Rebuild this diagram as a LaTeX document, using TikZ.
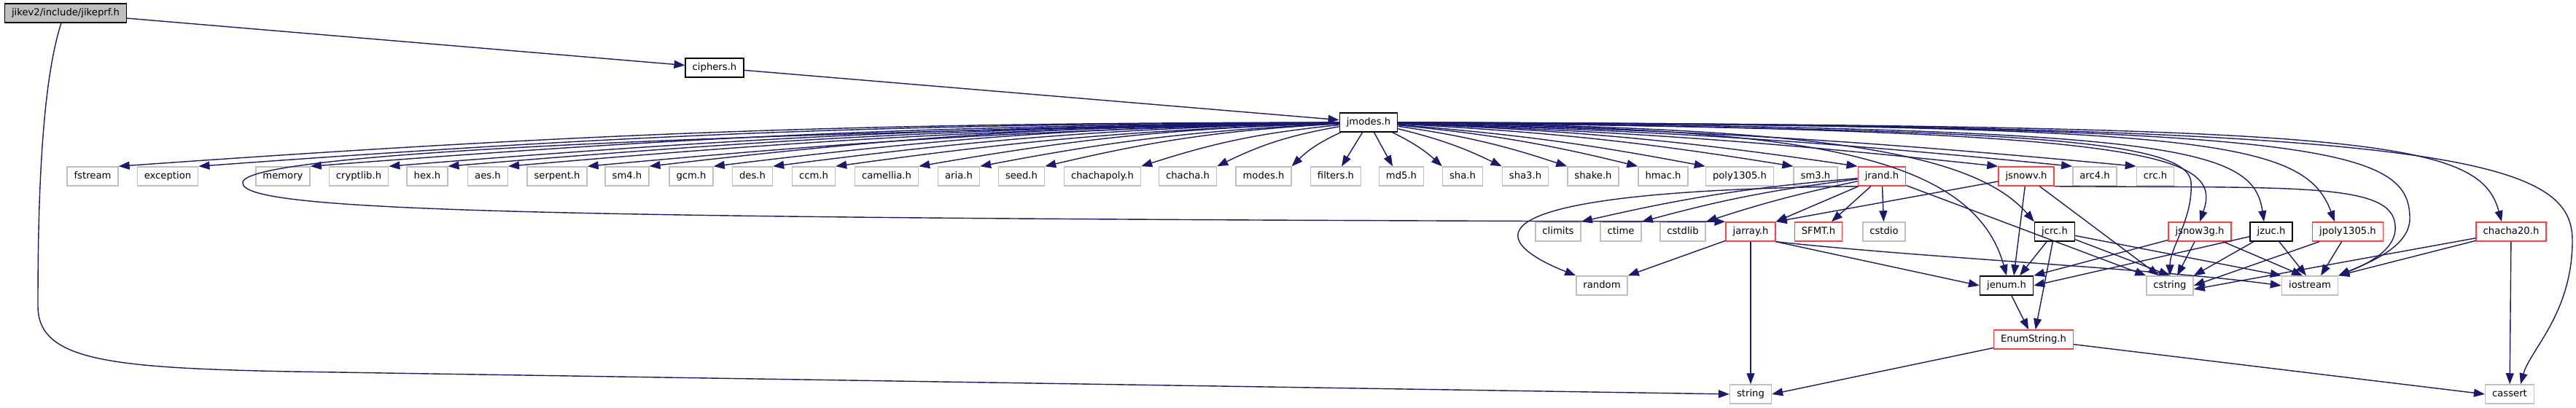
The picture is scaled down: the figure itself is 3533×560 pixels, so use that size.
\documentclass[tikz,border=0pt]{standalone}
\usepackage{fontspec}
\setmainfont{DejaVu Sans}
\usetikzlibrary{arrows.meta}

\definecolor{edgeblue}{RGB}{25,25,112}
\definecolor{sysgray}{RGB}{191,191,191}
\definecolor{truncred}{RGB}{255,64,64}

\begin{document}
\begin{tikzpicture}[
      x=0.02cm, y=-0.02cm,
      box/.style={rectangle, draw=black, fill=white, line width=0.85pt, inner xsep=0.19cm, inner ysep=0pt, minimum height=0.52cm, text height=5.6pt, text depth=1.6pt, font=\fontsize{7.5}{9}\selectfont},
      root/.style={box, fill=sysgray},
      sys/.style={box, draw=sysgray},
      trunc/.style={box, draw=truncred},
      arr/.style={-{Triangle[length=0.3cm, width=0.22cm]}, draw=edgeblue, line width=0.8pt},
    ]
    \useasboundingbox (0,0) rectangle (3533,560);

    % top of the graph
    \node[root] (jikeprf) at (90,18) {jikev2/include/jikeprf.h};
    \node[box] (ciphers) at (980,93) {ciphers.h};
    \node[box] (jmodes) at (1877,168) {jmodes.h};

    % headers pulled in by jmodes.h
    \node[sys] (fstream) at (127,242) {fstream};
    \node[sys] (exception) at (230,242) {exception};
    \node[sys] (memory) at (388,242) {memory};
    \node[sys] (cryptlib) at (492,242) {cryptlib.h};
    \node[sys] (hex) at (586,242) {hex.h};
    \node[sys] (aes) at (669,242) {aes.h};
    \node[sys] (serpent) at (764,242) {serpent.h};
    \node[sys] (sm4) at (860,242) {sm4.h};
    \node[sys] (gcm) at (948,242) {gcm.h};
    \node[sys] (des) at (1032,242) {des.h};
    \node[sys] (ccm) at (1116,242) {ccm.h};
    \node[sys] (camellia) at (1216,242) {camellia.h};
    \node[sys] (aria) at (1315,242) {aria.h};
    \node[sys] (seed) at (1401,242) {seed.h};
    \node[sys] (chachapoly) at (1512,242) {chachapoly.h};
    \node[sys] (chacha) at (1629,242) {chacha.h};
    \node[sys] (modes) at (1733,242) {modes.h};
    \node[sys] (filters) at (1832,242) {filters.h};
    \node[sys] (md5) at (1922,242) {md5.h};
    \node[sys] (sha) at (2006,242) {sha.h};
    \node[sys] (sha3) at (2092,242) {sha3.h};
    \node[sys] (shake) at (2185,242) {shake.h};
    \node[sys] (hmac) at (2281,242) {hmac.h};
    \node[sys] (poly) at (2386,242) {poly1305.h};
    \node[sys] (sm3) at (2490,242) {sm3.h};
    \node[trunc] (jrand) at (2581,242) {jrand.h};
    \node[trunc] (jsnowv) at (2779,242) {jsnowv.h};
    \node[sys] (arc4) at (2873,242) {arc4.h};
    \node[sys] (crc) at (2956,242) {crc.h};

    % third row
    \node[sys] (climits) at (2137,318) {climits};
    \node[sys] (ctime) at (2223,318) {ctime};
    \node[sys] (cstdlib) at (2308,318) {cstdlib};
    \node[trunc] (jarray) at (2401,318) {jarray.h};
    \node[trunc] (sfmt) at (2494,318) {SFMT.h};
    \node[sys] (cstdio) at (2584,318) {cstdio};
    \node[box] (jcrc) at (2818,318) {jcrc.h};
    \node[trunc] (jsnowg) at (3017,318) {jsnow3g.h};
    \node[box] (jzuc) at (3115,318) {jzuc.h};
    \node[trunc] (jpoly) at (3220,318) {jpoly1305.h};
    \node[trunc] (chacha20) at (3444,318) {chacha20.h};

    % lower rows
    \node[sys] (random) at (2197,392) {random};
    \node[box] (jenum) at (2752,392) {jenum.h};
    \node[sys] (cstring) at (2976,392) {cstring};
    \node[sys] (iostream) at (3168,392) {iostream};
    \node[trunc] (enumstr) at (2789,466) {EnumString.h};
    \node[sys] (string) at (2401,541) {string};
    \node[sys] (cassert) at (3442,541) {cassert};

    % jikeprf.h and ciphers.h
    \draw[arr] (jikeprf) -- (ciphers);
    \draw[arr] ([xshift=-0.12cm]jikeprf.south) .. controls (55,120) and (52,300) .. (52,420) .. controls (52,495) and (150,505) .. (400,510) -- (string.west);
    \draw[arr] (ciphers) -- (jmodes);

    % jmodes.h fan, left half
    \draw[arr] (jmodes) to[bend right=2] (fstream.north east);
    \draw[arr] (jmodes) to[bend right=2] (exception.north east);
    \draw[arr] (jmodes) to[bend right=2] (memory.north east);
    \draw[arr] (jmodes) to[bend right=2] (cryptlib.north east);
    \draw[arr] (jmodes) to[bend right=2] (hex.north east);
    \draw[arr] (jmodes) to[bend right=2] (aes.north east);
    \draw[arr] (jmodes) to[bend right=2] (serpent.north east);
    \draw[arr] (jmodes) to[bend right=3] (sm4.north east);
    \draw[arr] (jmodes) to[bend right=3] (gcm.north east);
    \draw[arr] (jmodes) to[bend right=3] (des.north east);
    \draw[arr] (jmodes) to[bend right=3] (ccm.north east);
    \draw[arr] (jmodes) to[bend right=4] (camellia.north east);
    \draw[arr] (jmodes) to[bend right=4] (aria.north east);
    \draw[arr] (jmodes) to[bend right=5] (seed.north east);
    \draw[arr] (jmodes) to[bend right=6] (chachapoly.north east);
    \draw[arr] (jmodes) to[bend right=8] (chacha.north east);
    \draw[arr] (jmodes) to[bend right=10] (modes.north east);
    \draw[arr] (jmodes) -- ([xshift=0.16cm]filters.north);
    \draw[arr] (jmodes) -- ([xshift=-0.24cm]md5.north);

    % jmodes.h fan, right half
    \draw[arr] (jmodes) to[bend left=8] (sha.north west);
    \draw[arr] (jmodes) to[bend left=6] (sha3.north west);
    \draw[arr] (jmodes) to[bend left=5] (shake.north west);
    \draw[arr] (jmodes) to[bend left=4] (hmac.north west);
    \draw[arr] (jmodes) to[bend left=3] (poly.north west);
    \draw[arr] (jmodes) to[bend left=3] (sm3.north west);
    \draw[arr] (jmodes) to[bend left=3] (jrand.north west);
    \draw[arr] (jmodes) to[bend left=2] (jsnowv.north west);
    \draw[arr] (jmodes) to[bend left=2] (arc4.north west);
    \draw[arr] (jmodes) to[bend left=2] (crc.north west);

    % jmodes.h, long edges
    \draw[arr] (jmodes.west) .. controls (900,185) and (340,212) .. (333,250) .. controls (326,290) and (700,300) .. (jarray.north west);
    \draw[arr] (jmodes.east) .. controls (2400,178) and (2700,190) .. (jenum.north);
    \draw[arr] (jmodes.east) .. controls (2450,175) and (2700,200) .. (jcrc.north west);
    \draw[arr] (jmodes.east) .. controls (2700,178) and (3000,185) .. (3005,250) .. controls (3008,300) and (2976,340) .. (cstring.north);
    \draw[arr] (jmodes.east) .. controls (2950,178) and (3050,210) .. (jsnowg.north);
    \draw[arr] (jmodes.east) .. controls (2980,175) and (3090,200) .. ([xshift=-0.2cm]jzuc.north);
    \draw[arr] (jmodes.east) .. controls (3020,172) and (3160,190) .. ([xshift=-0.36cm]jpoly.north);
    \draw[arr] (jmodes.east) .. controls (3250,172) and (3400,190) .. ([xshift=-0.26cm]chacha20.north);
    \draw[arr] (jmodes.east) .. controls (3180,172) and (3305,200) .. (3305,300) .. controls (3305,340) and (3245,362) .. (iostream.north east);
    \draw[arr] (jmodes.east) .. controls (3350,170) and (3528,215) .. (3528,330) .. controls (3528,430) and (3470,480) .. ([xshift=0.3cm]cassert.north);

    % jrand.h
    \draw[arr] (jrand) to[bend right=4] (climits.north east);
    \draw[arr] (jrand) to[bend right=4] (ctime.north east);
    \draw[arr] (jrand) to[bend right=3] (cstdlib.north east);
    \draw[arr] (jrand) -- (jarray.north east);
    \draw[arr] (jrand) -- ([xshift=0.36cm]sfmt.north);
    \draw[arr] (jrand) -- (cstdio);
    \draw[arr] (jrand.south west) .. controls (2000,262) and (2040,330) .. (random.north west);
    \draw[arr] (jrand) -- (cstring.north west);

    % jsnowv.h
    \draw[arr] (jsnowv) -- (jarray.north east);
    \draw[arr] (jsnowv) -- ([xshift=0.2cm]jenum.north);
    \draw[arr] (jsnowv) -- ([xshift=-0.3cm]cstring.north);
    \draw[arr] (jsnowv.south east) .. controls (3150,258) and (3282,250) .. (3285,310) .. controls (3288,345) and (3240,365) .. (iostream.north east);

    % jarray.h
    \draw[arr] (jarray) -- (random.north east);
    \draw[arr] (jarray) -- (string);
    \draw[arr] (jarray.south east) -- (jenum.west);
    \draw[arr] (jarray.south east) .. controls (2650,355) and (2950,368) .. (iostream.west);

    % jcrc.h
    \draw[arr] (jcrc) -- ([xshift=0.36cm]jenum.north);
    \draw[arr] (jcrc) -- (enumstr);
    \draw[arr] (jcrc) -- (cstring.north);
    \draw[arr] (jcrc) -- (iostream.north west);

    % jsnow3g.h, jzuc.h, jpoly1305.h, chacha20.h
    \draw[arr] (jsnowg) -- (jenum.north east);
    \draw[arr] (jsnowg) -- ([xshift=0.2cm]cstring.north);
    \draw[arr] (jsnowg) -- ([xshift=-0.2cm]iostream.north);
    \draw[arr] (jzuc) -- (jenum.east);
    \draw[arr] (jzuc) -- (cstring.north east);
    \draw[arr] (jzuc) -- ([xshift=-0.1cm]iostream.north);
    \draw[arr] (jpoly) -- (cstring.east);
    \draw[arr] (jpoly) -- ([xshift=0.3cm]iostream.north);
    \draw[arr] (chacha20) -- ([yshift=-0.1cm]cstring.east);
    \draw[arr] (chacha20) -- (iostream.north east);
    \draw[arr] (chacha20) -- (cassert);

    % bottom
    \draw[arr] (jenum) -- (enumstr);
    \draw[arr] (enumstr) -- (string.east);
    \draw[arr] (enumstr) -- (cassert.west);
  \end{tikzpicture}
\end{document}
